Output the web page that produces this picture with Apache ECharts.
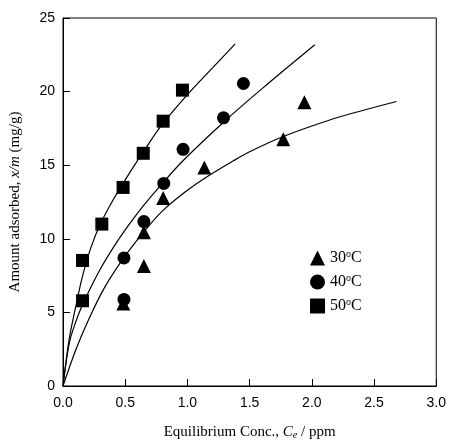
<!DOCTYPE html>
<html><head><meta charset="utf-8">
<script src="https://cdn.jsdelivr.net/npm/echarts@6/dist/echarts.min.js"></script>
<style>html,body{margin:0;padding:0;background:#fff}#c{width:449px;height:445px}</style>
</head><body><div id="c"></div>
<script>
// Data points (Ce ppm, x/m mg/g)
const pts30 = [[0.485,5.6],[0.65,8.15],[0.65,10.45],[0.805,12.77],[1.136,14.84],[1.77,16.76],[1.94,19.28]];
const pts40 = [[0.49,5.88],[0.49,8.7],[0.65,11.17],[0.81,13.76],[0.965,16.08],[1.29,18.22],[1.45,20.55]];
const pts50 = [[0.157,5.79],[0.157,8.53],[0.312,11.0],[0.483,13.49],[0.645,15.81],[0.805,17.99],[0.96,20.1]];
// Fitted curves
const curve30 = [[0,0],[0.1,2.4],[0.2,4.4],[0.328,6.6],[0.488,8.7],[0.648,10.45],[0.8,11.9],[1.0,13.3],[1.136,14.1],[1.37,15.3],[1.504,15.93],[1.77,16.95],[2.144,18.07],[2.4,18.7],[2.68,19.33]];
const curve40 = [[0,0],[0.05,2.9],[0.1,4.3],[0.155,5.5],[0.2,6.3],[0.3,7.95],[0.4,9.35],[0.5,10.6],[0.65,12.28],[0.806,13.83],[0.97,15.35],[1.29,17.92],[1.6,20.2],[2.024,23.18]];
const curve50 = [[0,0],[0.05,3.2],[0.1,5.3],[0.155,7.4],[0.22,9.3],[0.3,11.0],[0.4,12.6],[0.5,14.0],[0.645,15.9],[0.8,17.8],[1.0,19.8],[1.2,21.6],[1.384,23.24]];
const names = ['30°C','40°C','50°C'];
const xTicks = ['0.0','0.5','1.0','1.5','2.0','2.5','3.0'];

const serif = '"Liberation Serif","Times New Roman",serif';
const sans = '"Liberation Sans",Arial,sans-serif';
const chart = echarts.init(document.getElementById('c'), null, {renderer:'canvas'});
const lineS = (d) => ({type:'line', data:d, showSymbol:false, smooth:0.35,
  lineStyle:{color:'#000', width:1.2}, silent:true, z:2});
const sc = (i, d, sym, size) => ({type:'scatter', name:names[i], data:d, symbol:sym, symbolSize:size,
  itemStyle:{color:'#000', opacity:1}, z:3});
chart.setOption({
  animation:false,
  grid:{left:62, right:12, top:18, bottom:57, show:true, borderColor:'#000', borderWidth:1},
  legend:{
    orient:'vertical', left:305, top:244, itemGap:7, itemWidth:15, itemHeight:15,
    data:names,
    formatter: n => n.replace('°C','') + '{sup|o}C',
    textStyle:{fontFamily:serif, fontSize:16, color:'#000',
      rich:{sup:{fontFamily:serif, fontSize:10, color:'#000', verticalAlign:'top', padding:[0,0,8,0]}}}
  },
  xAxis:{type:'value', min:0, max:3, interval:0.5,
    axisLine:{lineStyle:{color:'#000'}},
    axisTick:{inside:true, length:7, lineStyle:{color:'#000'}},
    splitLine:{show:false},
    axisLabel:{fontFamily:sans, fontSize:14, color:'#000', margin:10,
      formatter: v => xTicks[Math.round(v/0.5)]},
    name:'Equilibrium Conc., {i|C}{sub|e} / ppm', nameLocation:'middle', nameGap:38,
    nameTextStyle:{fontFamily:serif, fontSize:15, color:'#000',
      rich:{i:{fontFamily:serif, fontStyle:'italic', fontSize:15, color:'#000'},
            sub:{fontFamily:serif, fontStyle:'italic', fontSize:10, color:'#000', verticalAlign:'bottom', padding:[6,0,0,0]}}}
  },
  yAxis:{type:'value', min:0, max:25, interval:5,
    axisLine:{lineStyle:{color:'#000'}},
    axisTick:{inside:true, length:7, lineStyle:{color:'#000'}},
    splitLine:{show:false},
    axisLabel:{fontFamily:sans, fontSize:14, color:'#000', margin:8},
    name:'Amount adsorbed, {i|x/m} (mg/g)', nameLocation:'middle', nameGap:40, nameRotate:90,
    nameTextStyle:{fontFamily:serif, fontSize:15, color:'#000',
      rich:{i:{fontFamily:serif, fontStyle:'italic', fontSize:15, color:'#000'}}}
  },
  series:[
    lineS(curve30), lineS(curve40), lineS(curve50),
    sc(0, pts30, 'triangle', 14), sc(1, pts40, 'circle', 13), sc(2, pts50, 'rect', 13)
  ]
});
</script></body></html>
